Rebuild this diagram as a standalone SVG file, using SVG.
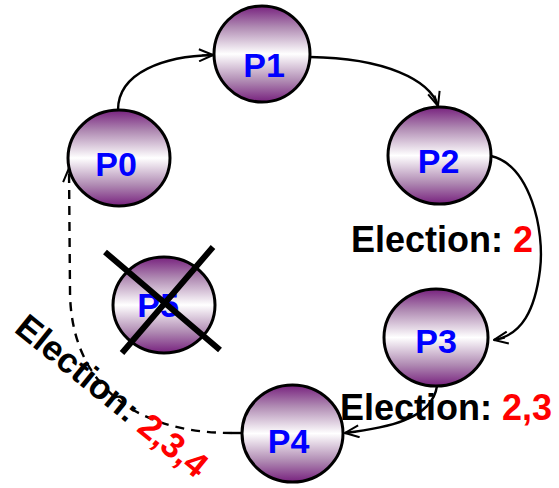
<svg xmlns="http://www.w3.org/2000/svg" width="559" height="488" viewBox="0 0 559 488">
<style>
.node ellipse{fill:url(#g);stroke:#000;stroke-width:3}
.lbl{font-family:"Liberation Sans",Arial,sans-serif;font-weight:bold;font-size:34px;fill:#0000ff;text-anchor:middle}
.el{font-family:"Liberation Sans",Arial,sans-serif;font-weight:bold;font-size:36px;fill:#000}
.red{fill:#ff0000}
.conn path{fill:none;stroke:#000;stroke-width:2.4}
.dash{stroke-dasharray:9,7}
</style>
<defs>
<linearGradient id="g" x1="0" y1="0" x2="0" y2="1">
<stop offset="0" stop-color="#77217e"/>
<stop offset="0.22" stop-color="#b08bb3"/>
<stop offset="0.5" stop-color="#ffffff"/>
<stop offset="0.78" stop-color="#b08bb3"/>
<stop offset="1" stop-color="#77217e"/>
</linearGradient>
<marker id="arr" viewBox="0 0 16 14" refX="15" refY="7" markerWidth="16" markerHeight="14" markerUnits="userSpaceOnUse" orient="auto">
<path d="M1,1 L15,7 L1,13" fill="none" stroke="#000" stroke-width="2"/>
<path d="M4,7 L15,7" stroke="#000" stroke-width="1.5"/>
</marker>
</defs>
<rect width="559" height="488" fill="#fff"/>
<g id="connectors" class="conn">
<path d="M118,110 C118,72 165,56 213,55" marker-end="url(#arr)"/>
<path d="M310,57 C385,58 430,80 438,106" marker-end="url(#arr)"/>
<path d="M491,156 C530,165 545,230 540,270 C535,310 522,335 494,340" marker-end="url(#arr)"/>
<path d="M437,386 C432,420 385,428 345,433" marker-end="url(#arr)"/>
<path d="M242,433 L232,433"/>
<path class="dash" d="M232,433 C130,433 70,380 70,290 L69,168" marker-end="url(#arr)"/>
</g>
<g id="P0" class="node"><ellipse cx="119" cy="158" rx="51" ry="48"/><text class="lbl" x="116" y="176">P0</text></g>
<g id="P1" class="node"><ellipse cx="262" cy="54" rx="48" ry="48"/><text class="lbl" x="264" y="77">P1</text></g>
<g id="P2" class="node"><ellipse cx="439.5" cy="155.5" rx="51.5" ry="48.5"/><text class="lbl" x="438.5" y="173">P2</text></g>
<g id="P3" class="node"><ellipse cx="436" cy="337.5" rx="52" ry="48.5"/><text class="lbl" x="436" y="353">P3</text></g>
<g id="P4" class="node"><ellipse cx="292.5" cy="433.5" rx="50.5" ry="48.5"/><text class="lbl" x="288.5" y="453">P4</text></g>
<g id="P5" class="node"><ellipse cx="164" cy="305" rx="51" ry="48"/><text class="lbl" x="158" y="317">P5</text>
<path d="M105,252 L220,350 M213,247 L122,353" stroke="#000" stroke-width="6" fill="none"/></g>
<g id="labels">
<text class="el" x="351" y="252">Election: <tspan class="red">2</tspan></text>
<text class="el" x="340" y="420">Election: <tspan class="red">2,3</tspan></text>
<text class="el" style="font-size:35px" transform="translate(13,331) rotate(39)">Election: <tspan class="red">2,3,4</tspan></text>
</g>
</svg>
